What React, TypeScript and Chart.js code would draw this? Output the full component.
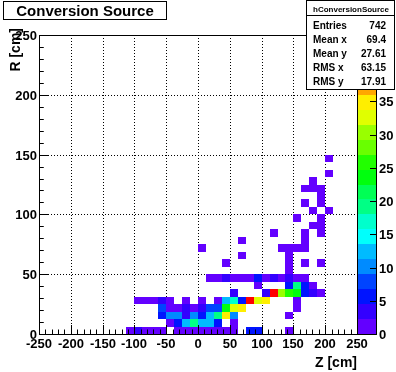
import React, { useEffect, useRef } from "react";
import { Chart, registerables } from "chart.js";

Chart.register(...registerables);

// ---- data -----------------------------------------------------------
const chartTitle = "Conversion Source";
const xTitle = "Z [cm]";
const yTitle = "R [cm]";
const statsTitle = "hConversionSource";
const statsLabels = ["Entries", "Mean x", "Mean y", "RMS x", "RMS y"];
const statsValues = ["742", "69.4", "27.61", "63.15", "17.91"];

const xTicks = [-250, -200, -150, -100, -50, 0, 50, 100, 150, 200, 250];
const yTicks = [0, 50, 100, 150, 200, 250];
const colorTicks = [0, 5, 10, 15, 20, 25, 30, 35];

const xBinWidth = 12.5;
const yBinWidth = 6.25;

// bin centres (Z, R) and bin contents
const cellZ = [
  // R 0-6.25
  -106.25, -93.75, -81.25, -68.75, -56.25, -31.25, -18.75, -6.25, 6.25, 18.75, 31.25, 43.75, 56.25, 81.25, 93.75, 143.75,
  // R 6.25-12.5
  -43.75, -31.25, -18.75, -6.25, 6.25, 18.75, 31.25, 56.25,
  // R 12.5-18.75
  -56.25, -43.75, -31.25, -18.75, -6.25, 6.25, 18.75, 31.25, 43.75, 56.25, 143.75,
  // R 18.75-25
  -56.25, -43.75, -31.25, -18.75, -6.25, 6.25, 18.75, 31.25, 43.75, 56.25, 68.75, 156.25,
  // R 25-31.25
  -93.75, -81.25, -68.75, -56.25, -43.75, -18.75, 6.25, 31.25, 43.75, 56.25, 68.75, 81.25, 93.75, 106.25, 156.25,
  // R 31.25-37.5
  56.25, 106.25, 118.75, 131.25, 143.75, 156.25, 168.75, 181.25, 193.75,
  // R 37.5-43.75
  93.75, 143.75, 156.25, 168.75, 181.25,
  // R 43.75-50
  18.75, 31.25, 43.75, 56.25, 68.75, 81.25, 93.75, 106.25, 118.75, 131.25, 143.75, 156.25, 168.75,
  // R 50+
  143.75,
  43.75, 143.75, 168.75, 193.75,
  68.75, 143.75,
  6.25, 131.25, 143.75, 156.25, 168.75,
  68.75, 168.75,
  118.75, 168.75, 193.75,
  181.25, 193.75,
  156.25, 193.75,
  181.25, 206.25,
  168.75, 193.75,
  193.75,
  168.75, 181.25, 193.75,
  181.25,
  206.25,
  206.25,
];

const cellR = [
  ...Array(16).fill(3.125),
  ...Array(8).fill(9.375),
  ...Array(11).fill(15.625),
  ...Array(12).fill(21.875),
  ...Array(15).fill(28.125),
  ...Array(9).fill(34.375),
  ...Array(5).fill(40.625),
  ...Array(13).fill(46.875),
  53.125,
  59.375, 59.375, 59.375, 59.375,
  65.625, 65.625,
  71.875, 71.875, 71.875, 71.875, 71.875,
  78.125, 78.125,
  84.375, 84.375, 84.375,
  90.625, 90.625,
  96.875, 96.875,
  103.125, 103.125,
  109.375, 109.375,
  115.625,
  121.875, 121.875, 121.875,
  128.125,
  134.375,
  146.875,
];

const cellCount = [
  1, 3, 1, 1, 1, 1, 1, 1, 1, 1, 1, 1, 1, 5, 5, 1,
  1, 5, 12, 19, 12, 12, 5, 1,
  5, 10, 10, 3, 10, 5, 12, 19, 35, 10, 1,
  8, 1, 1, 3, 1, 3, 8, 7, 23, 32, 35, 1,
  1, 1, 1, 3, 1, 1, 1, 1, 12, 17, 5, 45, 32, 35, 1,
  3, 3, 44, 30, 26, 23, 5, 3, 1,
  1, 5, 20, 5, 1,
  1, 1, 3, 1, 1, 1, 5, 1, 3, 1, 3, 1, 1,
  1,
  1, 1, 1, 1,
  1, 1,
  1, 1, 1, 1, 1,
  1, 1,
  1, 1, 1,
  1, 1,
  1, 1,
  1, 1,
  1, 1,
  1,
  1, 1, 1,
  1,
  1,
  1,
];

const zMin = 0;
const zMax = Math.max(...cellCount);

// ---- ROOT "pretty" palette --------------------------------------------
const NCOLORS = 50;
const NCONTOURS = 20;
function paletteColor(index: number): string {
  const hue = 280 - (index + 1) * (280 / NCOLORS);
  return `hsl(${hue}, 100%, 50%)`;
}
function levelColorIndex(level: number): number {
  let c = Math.floor((level + 0.99) * NCOLORS / NCONTOURS);
  if (c > NCOLORS - 1) c = NCOLORS - 1;
  return c;
}
function colorForValue(z: number): string {
  const level = Math.floor(0.01 + (z - zMin) * NCONTOURS / (zMax - zMin));
  return paletteColor(levelColorIndex(level));
}

const FONT = '"Liberation Sans", Arial, Helvetica, sans-serif';

const colzPlugin = {
  id: "rootColz",
  afterDraw(chart: any) {
    const ctx: CanvasRenderingContext2D = chart.ctx;
    const xs = chart.scales.x;
    const ys = chart.scales.y;
    const zs = chart.scales.z;
    const a = chart.chartArea;
    const L = Math.round(a.left), R = Math.round(a.right), T = Math.round(a.top), B = Math.round(a.bottom);
    const px = (v: number) => Math.round(xs.getPixelForValue(v));
    const py = (v: number) => Math.round(ys.getPixelForValue(v));
    const pz = (v: number) => Math.round(zs.getPixelForValue(v));

    ctx.save();
    // dotted grid
    ctx.strokeStyle = "#000";
    ctx.lineWidth = 1;
    ctx.setLineDash([1, 2]);
    ctx.beginPath();
    for (const t of xTicks) {
      if (t <= xs.min || t >= xs.max) continue;
      const x = px(t) + 0.5;
      ctx.moveTo(x, T);
      ctx.lineTo(x, B);
    }
    for (const t of yTicks) {
      if (t <= ys.min || t >= ys.max) continue;
      const y = py(t) + 0.5;
      ctx.moveTo(L, y);
      ctx.lineTo(R, y);
    }
    ctx.stroke();
    ctx.setLineDash([]);

    // cells
    for (let k = 0; k < cellZ.length; k++) {
      const z = cellZ[k], r = cellR[k], n = cellCount[k];
      if (n <= 0) continue;
      const x0 = px(z - xBinWidth / 2), x1 = px(z + xBinWidth / 2);
      const y0 = py(r - yBinWidth / 2), y1 = py(r + yBinWidth / 2);
      ctx.fillStyle = colorForValue(n);
      ctx.fillRect(x0, y1, x1 - x0, y0 - y1);
    }

    // frame
    ctx.strokeStyle = "#000";
    ctx.strokeRect(L + 0.5, T + 0.5, R - L, B - T);

    // ticks
    ctx.beginPath();
    const xMajorLen = 0.03 * (B - T);
    const yMajorLen = 0.03 * (R - L);
    for (let v = xs.min; v <= xs.max + 1e-6; v += 10) {
      const major = xTicks.includes(Math.round(v));
      const x = px(v) + 0.5;
      ctx.moveTo(x, B);
      ctx.lineTo(x, B - (major ? xMajorLen : xMajorLen / 2));
    }
    for (let v = ys.min; v <= ys.max + 1e-6; v += 10) {
      const major = yTicks.includes(Math.round(v));
      const y = py(v) + 0.5;
      ctx.moveTo(L, y);
      ctx.lineTo(L + (major ? yMajorLen : yMajorLen / 2), y);
    }
    ctx.stroke();

    // tick labels
    ctx.fillStyle = "#000";
    ctx.font = `bold 13px ${FONT}`;
    ctx.textBaseline = "alphabetic";
    ctx.textAlign = "center";
    for (const t of xTicks) ctx.fillText(String(t), px(t), B + 14);
    ctx.textAlign = "right";
    for (const t of yTicks) ctx.fillText(String(t), L - 2, py(t) + 5);

    // axis titles
    ctx.font = `bold 14px ${FONT}`;
    ctx.textAlign = "right";
    ctx.fillText(xTitle, R, 367);
    ctx.save();
    ctx.translate(20, 28);
    ctx.rotate(-Math.PI / 2);
    ctx.textAlign = "right";
    ctx.fillText(yTitle, 0, 0);
    ctx.restore();

    // colour bar
    const cbL = R, cbR = R + 19;
    const dz = (zMax - zMin) / NCONTOURS;
    for (let lev = 0; lev < NCONTOURS; lev++) {
      const yb = pz(zMin + lev * dz), yt = pz(zMin + (lev + 1) * dz);
      ctx.fillStyle = paletteColor(levelColorIndex(lev));
      ctx.fillRect(cbL, yt, cbR - cbL, yb - yt);
    }
    ctx.strokeStyle = "#000";
    ctx.strokeRect(cbL + 0.5, T + 0.5, cbR - cbL, B - T);
    ctx.beginPath();
    for (const t of colorTicks) {
      const y = pz(t) + 0.5;
      ctx.moveTo(cbR + 0.5, y);
      ctx.lineTo(cbR - 6, y);
    }
    ctx.stroke();
    ctx.fillStyle = "#000";
    ctx.font = `bold 13px ${FONT}`;
    ctx.textAlign = "left";
    for (const t of colorTicks) ctx.fillText(String(t), cbR + 3, pz(t) + 5);

    // stats box
    const sbL = 306, sbR = 394, sbT = 0, sbB = 89;
    ctx.fillStyle = "#fff";
    ctx.fillRect(sbL, sbT, sbR - sbL, sbB - sbT);
    ctx.strokeStyle = "#000";
    ctx.strokeRect(sbL + 0.5, sbT + 0.5, sbR - sbL, sbB - sbT);
    ctx.beginPath();
    ctx.moveTo(sbL, 15.5);
    ctx.lineTo(sbR, 15.5);
    ctx.stroke();
    ctx.fillStyle = "#000";
    ctx.font = `bold 8px ${FONT}`;
    ctx.textAlign = "center";
    ctx.fillText(statsTitle, (sbL + sbR) / 2 + 1, 12);
    ctx.font = `bold 10px ${FONT}`;
    for (let k = 0; k < statsLabels.length; k++) {
      const base = 28.5 + k * 14.2;
      ctx.textAlign = "left";
      ctx.fillText(statsLabels[k], 313, base);
      ctx.textAlign = "right";
      ctx.fillText(statsValues[k], 386, base);
    }

    // title box
    ctx.fillStyle = "#fff";
    ctx.fillRect(3, 1, 164, 18);
    ctx.strokeRect(3.5, 1.5, 163, 18);
    ctx.fillStyle = "#000";
    ctx.font = `bold 15px ${FONT}`;
    ctx.textAlign = "center";
    ctx.fillText(chartTitle, 85, 16);
    ctx.restore();
  },
};

export default function App() {
  const ref = useRef<HTMLCanvasElement>(null);
  useEffect(() => {
    if (!ref.current) return;
    const chart = new Chart(ref.current, {
      type: "scatter",
      data: {
        datasets: [
          {
            data: cellZ.map((z, k) => ({ x: z, y: cellR[k] })),
            pointRadius: 0,
            pointHoverRadius: 0,
          },
        ],
      },
      options: {
        animation: false,
        responsive: false,
        devicePixelRatio: 1,
        events: [],
        layout: { padding: { left: 39, right: 39, top: 35, bottom: 38 } },
        plugins: {
          legend: { display: false },
          tooltip: { enabled: false },
          title: { display: false },
        },
        scales: {
          x: { type: "linear", min: -250, max: 250, display: false },
          y: { type: "linear", min: 0, max: 250, display: false },
          z: { type: "linear", min: zMin, max: zMax, display: false, position: "right" },
        },
      },
      plugins: [colzPlugin],
    } as any);
    return () => chart.destroy();
  }, []);
  return (
    <div style={{ position: "absolute", left: 0, top: 0, width: 396, height: 372, background: "#fff" }}>
      <canvas ref={ref} width={396} height={372} style={{ display: "block", width: 396, height: 372 }} />
    </div>
  );
}
